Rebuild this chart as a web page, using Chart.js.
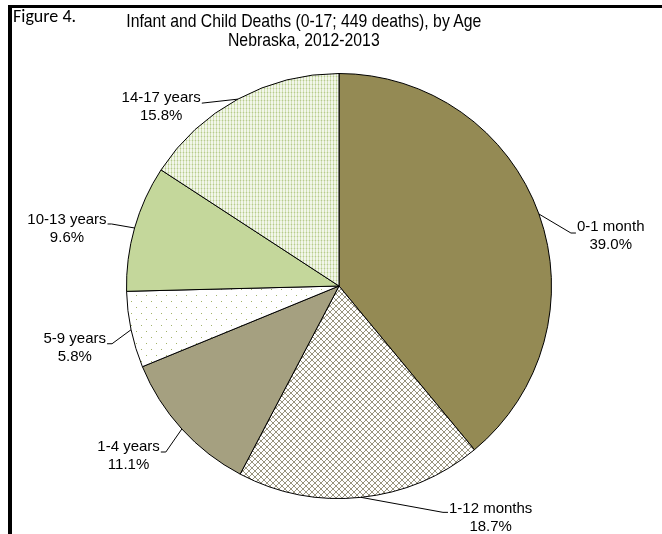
<!DOCTYPE html>
<html><head><meta charset="utf-8">
<script src="https://cdn.jsdelivr.net/npm/chart.js@4.4.0/dist/chart.umd.min.js"></script>
<style>
html,body{margin:0;padding:0;background:#fff;}
#wrap{position:relative;width:662px;height:534px;overflow:hidden;background:#fff;}
#frame{position:absolute;left:8px;top:5px;width:700px;height:600px;border-left:4px solid #000;border-top:3px solid #000;}
canvas{position:absolute;left:0;top:0;}
.t{position:absolute;white-space:nowrap;color:#000;}
#title{left:46px;width:500px;text-align:center;top:11px;font:19px 'Liberation Sans',Arial,sans-serif;line-height:19px;transform:scaleX(0.83);transform-origin:296px 0;}
</style></head><body>
<div id="wrap">
<canvas id="c" width="662" height="534"></canvas>
<div id="frame"></div>
<div class="t" style="left:13px;top:5px;font:18px Carlito, Lato, sans-serif;">Figure 4.</div>
<div class="t" id="title">Infant and Child Deaths (0-17; 449 deaths), by Age<br>Nebraska, 2012-2013</div>
</div>
<script>
const categories = ['0-1 month','1-12 months','1-4 years','5-9 years','10-13 years','14-17 years'];
const percentages = [39.0, 18.7, 11.1, 5.8, 9.6, 15.8];

const ctx = document.getElementById('c').getContext('2d');
function makePattern(w, h, draw){
  const c = document.createElement('canvas'); c.width = w; c.height = h;
  const g = c.getContext('2d'); g.fillStyle = '#fff'; g.fillRect(0,0,w,h); draw(g);
  return ctx.createPattern(c, 'repeat');
}
const crossHatch = makePattern(6, 6, g => {
  g.fillStyle = '#98947e';
  for (let i = 0; i < 6; i++){ g.fillRect(i, i, 1, 1); g.fillRect(i, 5 - i, 1, 1); }
});
const sparseDots = makePattern(10, 12, g => {
  g.fillStyle = '#a3b46a';
  g.fillRect(1, 1, 1, 1); g.fillRect(6, 7, 1, 1);
});
const fineGrid = makePattern(3, 4, g => {
  g.fillStyle = '#f2f6ea'; g.fillRect(0, 0, 3, 4);
  g.fillStyle = '#d2e0b4'; g.fillRect(0, 0, 1, 4);
  g.fillStyle = '#e2ebcf'; g.fillRect(0, 0, 3, 1);
  g.fillStyle = '#b7ca8e'; g.fillRect(0, 0, 1, 1);
});
const fills = ['#948a54', crossHatch, '#a5a080', sparseDots, '#c4d79b', fineGrid];

// label placement (style): elbow offset from slice edge, tick direction/length
const labelLayout = [
  {ex: 32, ey: 19, tick: 5, ty: -6},
  {ex: 82, ey: 15, tick: 5, ty: -3},
  {ex: -16, ey: 23, tick: -5, ty: -5},
  {ex: -19, ey: 14, tick: -5, ty: -5},
  {ex: -23, ey: -4, tick: -4, ty: -4},
  {ex: -36, ey: 4, tick: 0, ty: -5}
];

const outsideLabels = {
  id: 'outsideLabels',
  afterDatasetsDraw(chart){
    const c = chart.ctx;
    const meta = chart.getDatasetMeta(0);
    c.save();
    c.font = '15px "Liberation Sans", Arial, sans-serif';
    c.textBaseline = 'middle';
    c.textAlign = 'center';
    meta.data.forEach((arc, i) => {
      const p = arc.getProps(['x','y','startAngle','endAngle','outerRadius'], true);
      const a = (p.startAngle + p.endAngle) / 2;
      const x0 = p.x + p.outerRadius * Math.cos(a);
      const y0 = p.y + p.outerRadius * Math.sin(a);
      const L = labelLayout[i];
      const x1 = x0 + L.ex, y1 = y0 + L.ey;
      const x2 = x1 + L.tick;
      c.strokeStyle = '#000'; c.lineWidth = 1;
      c.beginPath(); c.moveTo(x0, y0); c.lineTo(x1, y1); c.lineTo(x2, y1); c.stroke();
      const l1 = categories[i], l2 = percentages[i].toFixed(1) + '%';
      const w = Math.max(c.measureText(l1).width, c.measureText(l2).width);
      const right = L.tick > 0;
      const cx = right ? x2 + 1 + w / 2 : x2 - 1 - w / 2;
      c.fillStyle = '#000';
      c.fillText(l1, cx, y1 + L.ty);
      c.fillText(l2, cx, y1 + L.ty + 18);
    });
    c.restore();
  }
};

new Chart(ctx, {
  type: 'pie',
  data: {
    labels: categories,
    datasets: [{ data: percentages, backgroundColor: fills, borderColor: '#000', borderWidth: 1 }]
  },
  options: {
    responsive: false,
    animation: false,
    layout: { padding: { top: 73, bottom: 35, left: 126, right: 110 } },
    plugins: { legend: { display: false }, tooltip: { enabled: false } }
  },
  plugins: [outsideLabels]
});
</script>
</body></html>
